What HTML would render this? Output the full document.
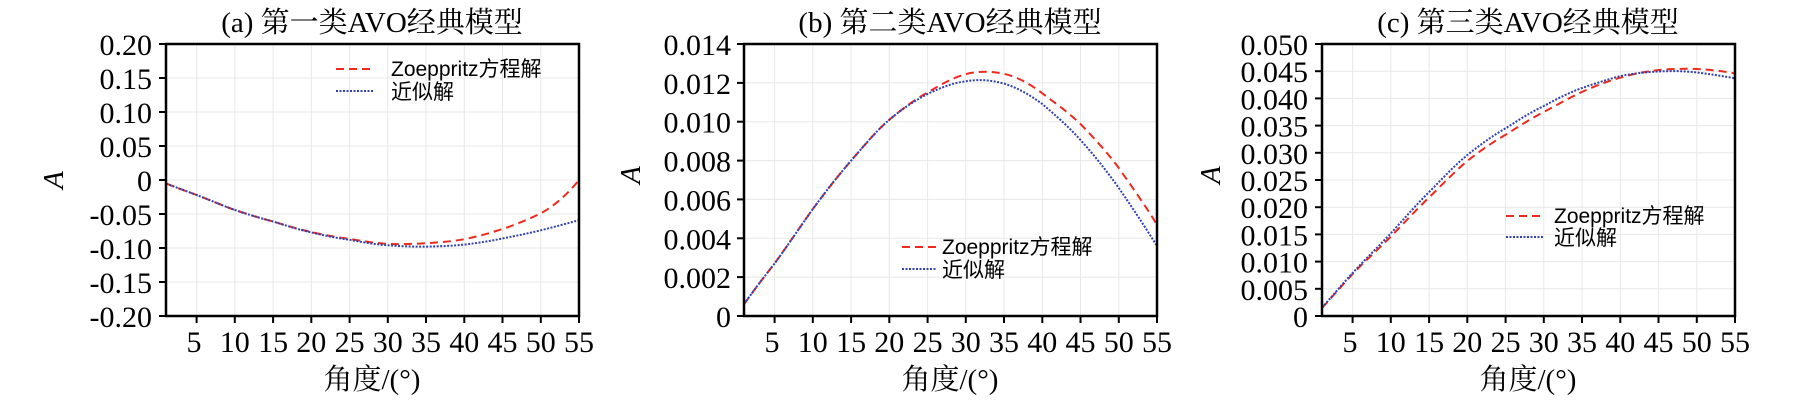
<!DOCTYPE html>
<html><head><meta charset="utf-8"><style>
html,body{margin:0;padding:0;background:#fff}
svg{display:block}
text{font-family:"Liberation Serif","Noto Serif CJK SC","Noto Sans CJK SC",serif;fill:#000}
.t{font-size:29px}
.tk{font-size:30px}
.lg{font-size:21px;font-family:"Liberation Sans","Noto Sans CJK SC",sans-serif}
.g{stroke:#e8e8e8;stroke-width:1}
.r{fill:none;stroke:#ee2a1e;stroke-width:2;stroke-dasharray:8,5}
.b{fill:none;stroke:#3040b0;stroke-width:2;stroke-dasharray:2,1.5}
.ax{fill:none;stroke:#000;stroke-width:2.5}
</style></head><body>
<svg width="1806" height="401" viewBox="0 0 1806 401" xmlns="http://www.w3.org/2000/svg">
<!-- ===== Panel A ===== -->
<g>
<g class="g">
<line x1="196.6" y1="44" x2="196.6" y2="316"/><line x1="234.8" y1="44" x2="234.8" y2="316"/><line x1="273.1" y1="44" x2="273.1" y2="316"/><line x1="311.3" y1="44" x2="311.3" y2="316"/><line x1="349.6" y1="44" x2="349.6" y2="316"/><line x1="387.8" y1="44" x2="387.8" y2="316"/><line x1="426" y1="44" x2="426" y2="316"/><line x1="464.3" y1="44" x2="464.3" y2="316"/><line x1="502.5" y1="44" x2="502.5" y2="316"/><line x1="540.8" y1="44" x2="540.8" y2="316"/>
<line x1="166" y1="78" x2="579" y2="78"/><line x1="166" y1="112" x2="579" y2="112"/><line x1="166" y1="146" x2="579" y2="146"/><line x1="166" y1="180" x2="579" y2="180"/><line x1="166" y1="214" x2="579" y2="214"/><line x1="166" y1="248" x2="579" y2="248"/><line x1="166" y1="282" x2="579" y2="282"/>
</g>
<path class="r" d="M166,183.4 C176,187.5 186,191 196.6,195 C210,200 222,205.5 234.8,209.9 C248,214.5 260,218 273.1,221.5 C286,225.5 298,229 311.3,232 C324,235 336,237 349.6,239 C362,241 375,243 387.8,243.9 C400,244.5 413,244 426,243.2 C440,242.3 452,241.5 464.3,239.2 C478,236.5 490,233 502.5,229 C516,224.5 528,219.5 540.8,213.3 C554,206 567,195 579,180"/>
<path class="b" d="M166,183.4 C176,187.5 186,191 196.6,195 C210,200 222,205.5 234.8,209.9 C248,214.5 260,218 273.1,221.5 C286,225.5 298,229.5 311.3,232.4 C324,235.5 336,238 349.6,239.8 C362,242 375,244.5 387.8,245.3 C400,246.2 413,246.8 426,246.6 C440,246.4 452,245.8 464.3,244.6 C478,243 490,241 502.5,238.5 C516,235.7 528,233.5 540.8,230.3 C554,227 567,223.5 579,220.1"/>
<rect class="ax" x="166" y="44" width="413" height="272"/>
<g stroke="#000" stroke-width="2">
<line x1="159" y1="44" x2="166" y2="44"/><line x1="159" y1="78" x2="166" y2="78"/><line x1="159" y1="112" x2="166" y2="112"/><line x1="159" y1="146" x2="166" y2="146"/><line x1="159" y1="180" x2="166" y2="180"/><line x1="159" y1="214" x2="166" y2="214"/><line x1="159" y1="248" x2="166" y2="248"/><line x1="159" y1="282" x2="166" y2="282"/><line x1="159" y1="316" x2="166" y2="316"/>
<line x1="196.6" y1="316" x2="196.6" y2="323"/><line x1="234.8" y1="316" x2="234.8" y2="323"/><line x1="273.1" y1="316" x2="273.1" y2="323"/><line x1="311.3" y1="316" x2="311.3" y2="323"/><line x1="349.6" y1="316" x2="349.6" y2="323"/><line x1="387.8" y1="316" x2="387.8" y2="323"/><line x1="426" y1="316" x2="426" y2="323"/><line x1="464.3" y1="316" x2="464.3" y2="323"/><line x1="502.5" y1="316" x2="502.5" y2="323"/><line x1="540.8" y1="316" x2="540.8" y2="323"/><line x1="579" y1="316" x2="579" y2="323"/>
</g>
<g class="tk" text-anchor="end">
<text x="152" y="55">0.20</text><text x="152" y="89">0.15</text><text x="152" y="123">0.10</text><text x="152" y="157">0.05</text><text x="152" y="191">0</text><text x="152" y="225">-0.05</text><text x="152" y="259">-0.10</text><text x="152" y="293">-0.15</text><text x="152" y="327">-0.20</text>
</g>
<g class="tk" text-anchor="middle">
<text x="194" y="352">5</text><text x="234.8" y="352">10</text><text x="273.1" y="352">15</text><text x="311.3" y="352">20</text><text x="349.6" y="352">25</text><text x="387.8" y="352">30</text><text x="426" y="352">35</text><text x="464.3" y="352">40</text><text x="502.5" y="352">45</text><text x="540.8" y="352">50</text><text x="579" y="352">55</text>
</g>
<text class="t" x="372" y="32" text-anchor="middle">(a) 第一类AVO经典模型</text>
<text class="t" x="372" y="389" text-anchor="middle">角度/(°)</text>
<text class="t" font-style="italic" transform="translate(63,180) rotate(-90)" text-anchor="middle">A</text>
<line class="r" x1="336" y1="69" x2="374" y2="69"/>
<line class="b" x1="336" y1="91" x2="374" y2="91"/>
<text class="lg" x="391" y="76">Zoeppritz方程解</text>
<text class="lg" x="391" y="99">近似解</text>
</g>

<!-- ===== Panel B ===== -->
<g>
<g class="g">
<line x1="774.6" y1="44" x2="774.6" y2="316"/><line x1="812.8" y1="44" x2="812.8" y2="316"/><line x1="851.1" y1="44" x2="851.1" y2="316"/><line x1="889.3" y1="44" x2="889.3" y2="316"/><line x1="927.6" y1="44" x2="927.6" y2="316"/><line x1="965.8" y1="44" x2="965.8" y2="316"/><line x1="1004" y1="44" x2="1004" y2="316"/><line x1="1042.3" y1="44" x2="1042.3" y2="316"/><line x1="1080.5" y1="44" x2="1080.5" y2="316"/><line x1="1118.8" y1="44" x2="1118.8" y2="316"/>
<line x1="744" y1="82.9" x2="1157" y2="82.9"/><line x1="744" y1="121.7" x2="1157" y2="121.7"/><line x1="744" y1="160.6" x2="1157" y2="160.6"/><line x1="744" y1="199.4" x2="1157" y2="199.4"/><line x1="744" y1="238.3" x2="1157" y2="238.3"/><line x1="744" y1="277.1" x2="1157" y2="277.1"/>
</g>
<path class="r" d="M744,304.3 C754,290 764,277 774.6,263.5 C788,245 800,227 812.8,209.1 C826,191 838,176 851.1,160.6 C864,146 876,131 889.3,119.8 C902,109 914,100 927.6,92.5 C940,85 952,78 965.8,74.1 C978,71 990,71 1004,73.8 C1018,77 1030,84 1042.3,93.3 C1055,103 1068,112 1080.5,124 C1094,138 1106,151 1118.8,168 C1132,187 1145,205 1157,224.7"/>
<path class="b" d="M744,304.3 C754,290 764,277 774.6,263.5 C788,245 800,227 812.8,209.1 C826,191 838,176 851.1,160.6 C864,146 876,131 889.3,119.8 C902,109 914,101 927.6,94 C940,88 952,83 965.8,81.3 C978,79 990,80 1004,83.5 C1018,88 1030,95 1042.3,104 C1055,115 1068,126 1080.5,140 C1094,155 1106,170 1118.8,188 C1132,207 1145,227 1157,246"/>
<rect class="ax" x="744" y="44" width="413" height="272"/>
<g stroke="#000" stroke-width="2">
<line x1="737" y1="44" x2="744" y2="44"/><line x1="737" y1="82.9" x2="744" y2="82.9"/><line x1="737" y1="121.7" x2="744" y2="121.7"/><line x1="737" y1="160.6" x2="744" y2="160.6"/><line x1="737" y1="199.4" x2="744" y2="199.4"/><line x1="737" y1="238.3" x2="744" y2="238.3"/><line x1="737" y1="277.1" x2="744" y2="277.1"/><line x1="737" y1="316" x2="744" y2="316"/>
<line x1="774.6" y1="316" x2="774.6" y2="323"/><line x1="812.8" y1="316" x2="812.8" y2="323"/><line x1="851.1" y1="316" x2="851.1" y2="323"/><line x1="889.3" y1="316" x2="889.3" y2="323"/><line x1="927.6" y1="316" x2="927.6" y2="323"/><line x1="965.8" y1="316" x2="965.8" y2="323"/><line x1="1004" y1="316" x2="1004" y2="323"/><line x1="1042.3" y1="316" x2="1042.3" y2="323"/><line x1="1080.5" y1="316" x2="1080.5" y2="323"/><line x1="1118.8" y1="316" x2="1118.8" y2="323"/><line x1="1157" y1="316" x2="1157" y2="323"/>
</g>
<g class="tk" text-anchor="end">
<text x="731" y="55">0.014</text><text x="731" y="93.9">0.012</text><text x="731" y="132.7">0.010</text><text x="731" y="171.6">0.008</text><text x="731" y="210.4">0.006</text><text x="731" y="249.3">0.004</text><text x="731" y="288.1">0.002</text><text x="731" y="327">0</text>
</g>
<g class="tk" text-anchor="middle">
<text x="772" y="352">5</text><text x="812.8" y="352">10</text><text x="851.1" y="352">15</text><text x="889.3" y="352">20</text><text x="927.6" y="352">25</text><text x="965.8" y="352">30</text><text x="1004" y="352">35</text><text x="1042.3" y="352">40</text><text x="1080.5" y="352">45</text><text x="1118.8" y="352">50</text><text x="1157" y="352">55</text>
</g>
<text class="t" x="950" y="32" text-anchor="middle">(b) 第二类AVO经典模型</text>
<text class="t" x="950" y="389" text-anchor="middle">角度/(°)</text>
<text class="t" font-style="italic" transform="translate(640,175) rotate(-90)" text-anchor="middle">A</text>
<line class="r" x1="902" y1="247" x2="936" y2="247"/>
<line class="b" x1="902" y1="269" x2="936" y2="269"/>
<text class="lg" x="942" y="254">Zoeppritz方程解</text>
<text class="lg" x="942" y="277">近似解</text>
</g>

<!-- ===== Panel C ===== -->
<g>
<g class="g">
<line x1="1352.6" y1="44" x2="1352.6" y2="316"/><line x1="1390.8" y1="44" x2="1390.8" y2="316"/><line x1="1429.1" y1="44" x2="1429.1" y2="316"/><line x1="1467.3" y1="44" x2="1467.3" y2="316"/><line x1="1505.6" y1="44" x2="1505.6" y2="316"/><line x1="1543.8" y1="44" x2="1543.8" y2="316"/><line x1="1582" y1="44" x2="1582" y2="316"/><line x1="1620.3" y1="44" x2="1620.3" y2="316"/><line x1="1658.5" y1="44" x2="1658.5" y2="316"/><line x1="1696.8" y1="44" x2="1696.8" y2="316"/>
<line x1="1322" y1="71.2" x2="1735" y2="71.2"/><line x1="1322" y1="98.4" x2="1735" y2="98.4"/><line x1="1322" y1="125.6" x2="1735" y2="125.6"/><line x1="1322" y1="152.8" x2="1735" y2="152.8"/><line x1="1322" y1="180" x2="1735" y2="180"/><line x1="1322" y1="207.2" x2="1735" y2="207.2"/><line x1="1322" y1="234.4" x2="1735" y2="234.4"/><line x1="1322" y1="261.6" x2="1735" y2="261.6"/><line x1="1322" y1="288.8" x2="1735" y2="288.8"/>
</g>
<path class="r" d="M1322,308 C1332,297 1342,285.5 1352.6,274 C1365,261 1378,249.5 1390.8,236.6 C1404,223 1416,210 1429.1,197.4 C1442,185 1454,172 1467.3,161 C1480,151 1492,142.5 1505.6,134.8 C1518,127 1530,119 1543.8,112 C1556,105.5 1568,98.5 1582,91.9 C1594,86.5 1607,81.5 1620.3,77.7 C1633,74 1645,71.5 1658.5,70.1 C1672,68.7 1690,68.3 1705,69.5 C1717,70.5 1727,72 1735,73.4"/>
<path class="b" d="M1322,307.8 C1332,296.5 1342,284.5 1352.6,273 C1365,259.5 1378,247 1390.8,233.3 C1404,219 1416,205 1429.1,192 C1442,179 1454,166 1467.3,155 C1480,145 1492,136 1505.6,128.3 C1518,120.5 1530,112.5 1543.8,106 C1556,99.5 1568,93 1582,88 C1594,84 1607,79.5 1620.3,76.1 C1633,73.5 1645,72.2 1658.5,71.5 C1672,70.8 1685,71 1696.8,72.5 C1710,74 1722,76 1735,78.3"/>
<rect class="ax" x="1322" y="44" width="413" height="272"/>
<g stroke="#000" stroke-width="2">
<line x1="1315" y1="44" x2="1322" y2="44"/><line x1="1315" y1="71.2" x2="1322" y2="71.2"/><line x1="1315" y1="98.4" x2="1322" y2="98.4"/><line x1="1315" y1="125.6" x2="1322" y2="125.6"/><line x1="1315" y1="152.8" x2="1322" y2="152.8"/><line x1="1315" y1="180" x2="1322" y2="180"/><line x1="1315" y1="207.2" x2="1322" y2="207.2"/><line x1="1315" y1="234.4" x2="1322" y2="234.4"/><line x1="1315" y1="261.6" x2="1322" y2="261.6"/><line x1="1315" y1="288.8" x2="1322" y2="288.8"/><line x1="1315" y1="316" x2="1322" y2="316"/>
<line x1="1352.6" y1="316" x2="1352.6" y2="323"/><line x1="1390.8" y1="316" x2="1390.8" y2="323"/><line x1="1429.1" y1="316" x2="1429.1" y2="323"/><line x1="1467.3" y1="316" x2="1467.3" y2="323"/><line x1="1505.6" y1="316" x2="1505.6" y2="323"/><line x1="1543.8" y1="316" x2="1543.8" y2="323"/><line x1="1582" y1="316" x2="1582" y2="323"/><line x1="1620.3" y1="316" x2="1620.3" y2="323"/><line x1="1658.5" y1="316" x2="1658.5" y2="323"/><line x1="1696.8" y1="316" x2="1696.8" y2="323"/><line x1="1735" y1="316" x2="1735" y2="323"/>
</g>
<g class="tk" text-anchor="end">
<text x="1308" y="55">0.050</text><text x="1308" y="82.2">0.045</text><text x="1308" y="109.4">0.040</text><text x="1308" y="136.6">0.035</text><text x="1308" y="163.8">0.030</text><text x="1308" y="191">0.025</text><text x="1308" y="218.2">0.020</text><text x="1308" y="245.4">0.015</text><text x="1308" y="272.6">0.010</text><text x="1308" y="299.8">0.005</text><text x="1308" y="327">0</text>
</g>
<g class="tk" text-anchor="middle">
<text x="1350" y="352">5</text><text x="1390.8" y="352">10</text><text x="1429.1" y="352">15</text><text x="1467.3" y="352">20</text><text x="1505.6" y="352">25</text><text x="1543.8" y="352">30</text><text x="1582" y="352">35</text><text x="1620.3" y="352">40</text><text x="1658.5" y="352">45</text><text x="1696.8" y="352">50</text><text x="1735" y="352">55</text>
</g>
<text class="t" x="1528" y="32" text-anchor="middle">(c) 第三类AVO经典模型</text>
<text class="t" x="1528" y="389" text-anchor="middle">角度/(°)</text>
<text class="t" font-style="italic" transform="translate(1220,175) rotate(-90)" text-anchor="middle">A</text>
<line class="r" x1="1506" y1="216" x2="1544" y2="216"/>
<line class="b" x1="1506" y1="237" x2="1544" y2="237"/>
<text class="lg" x="1554" y="223">Zoeppritz方程解</text>
<text class="lg" x="1554" y="245">近似解</text>
</g>
</svg>
</body></html>
